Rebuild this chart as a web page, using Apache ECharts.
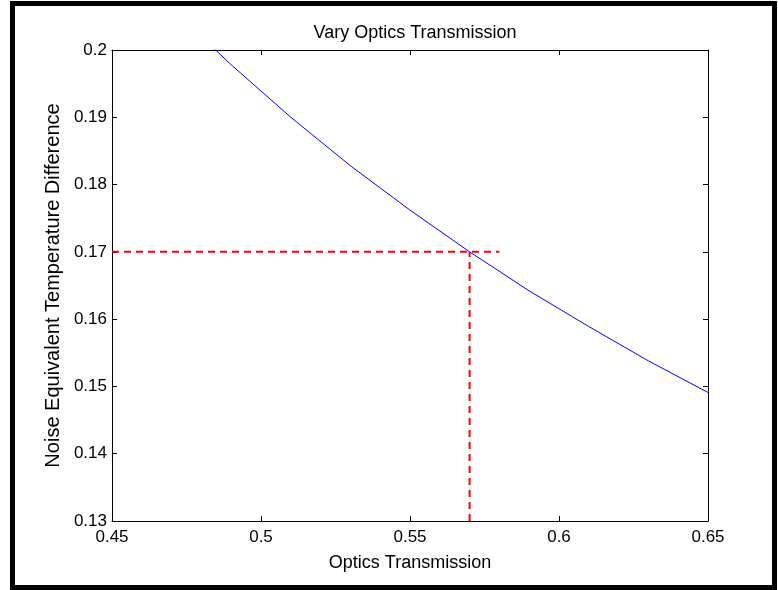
<!DOCTYPE html>
<html>
<head>
<meta charset="utf-8">
<script src="https://cdn.jsdelivr.net/npm/echarts@6/dist/echarts.min.js"></script>
<style>
  html, body { margin: 0; padding: 0; background: #fff; }
  #main { width: 778px; height: 590px; }
</style>
</head>
<body>
<div id="main"></div>
<script>
// optics transmission vs NETD
var transmission = [0.47, 0.49, 0.51, 0.53, 0.55, 0.57, 0.59, 0.61, 0.63, 0.65];
var netd = [0.2062, 0.1978, 0.1900, 0.1828, 0.1762, 0.1700, 0.1642, 0.1589, 0.1538, 0.1491];

// red guide lines
var guideH = [[0.45, 0.17], [0.58, 0.17]];
var guideV = [[0.57, 0.13], [0.57, 0.17]];

var xTicks = [0.45, 0.5, 0.55, 0.6, 0.65];
var yTicks = [0.13, 0.14, 0.15, 0.16, 0.17, 0.18, 0.19, 0.2];

var font = "Liberation Sans, Arial, sans-serif";

var myChart = echarts.init(document.getElementById("main"));

var curve = transmission.map(function (t, i) {
  return [t, netd[i]];
});

function fmt(v) {
  return String(+v.toFixed(2));
}

var axisCommon = {
  type: "value",
  axisLine: { show: true, lineStyle: { color: "#000", width: 1 } },
  axisTick: { show: true, inside: true, length: 5, lineStyle: { color: "#000" } },
  splitLine: { show: false },
};

var option = {
  animation: false,
  backgroundColor: "#fff",
  title: {
    text: "Vary Optics Transmission",
    left: 410,
    top: 19,
    textAlign: "center",
    textStyle: { fontFamily: font, fontSize: 18, fontWeight: "normal", color: "#000" },
  },
  grid: { left: 112, top: 50, right: 70, bottom: 69, show: false },
  xAxis: [
    Object.assign({}, axisCommon, {
      min: xTicks[0],
      max: xTicks[xTicks.length - 1],
      interval: 0.05,
      position: "bottom",
      name: "Optics Transmission",
      nameLocation: "middle",
      nameGap: 33,
      nameTextStyle: { fontFamily: font, fontSize: 18, color: "#000", verticalAlign: "top" },
      axisLabel: { fontFamily: font, fontSize: 17, color: "#000", margin: 8, formatter: fmt },
    }),
    Object.assign({}, axisCommon, {
      min: xTicks[0],
      max: xTicks[xTicks.length - 1],
      interval: 0.05,
      position: "top",
      axisLabel: { show: false },
    }),
  ],
  yAxis: [
    Object.assign({}, axisCommon, {
      min: yTicks[0],
      max: yTicks[yTicks.length - 1],
      interval: 0.01,
      position: "left",
      name: "Noise Equivalent Temperature Difference",
      nameLocation: "middle",
      nameGap: 49,
      nameTextStyle: { fontFamily: font, fontSize: 20, color: "#000" },
      axisLabel: { fontFamily: font, fontSize: 17, color: "#000", margin: 5, formatter: fmt },
    }),
    Object.assign({}, axisCommon, {
      min: yTicks[0],
      max: yTicks[yTicks.length - 1],
      interval: 0.01,
      position: "right",
      axisLabel: { show: false },
    }),
  ],
  graphic: [
    {
      type: "rect",
      shape: { x: 12.5, y: 3.5, width: 762, height: 584 },
      style: { fill: null, stroke: "#000", lineWidth: 5 },
      silent: true,
    },
  ],
  series: [
    {
      type: "line",
      data: curve,
      showSymbol: false,
      symbol: "none",
      clip: true,
      lineStyle: { color: "#0000ff", width: 1 },
      z: 3,
    },
    {
      type: "line",
      data: guideH,
      symbol: "none",
      lineStyle: { color: "#ff0000", width: 2, type: [7, 5] },
      z: 2,
    },
    {
      type: "line",
      data: guideV,
      symbol: "none",
      lineStyle: { color: "#ff0000", width: 2, type: [7, 5] },
      z: 2,
    },
  ],
};

option && myChart.setOption(option);
</script>
</body>
</html>
